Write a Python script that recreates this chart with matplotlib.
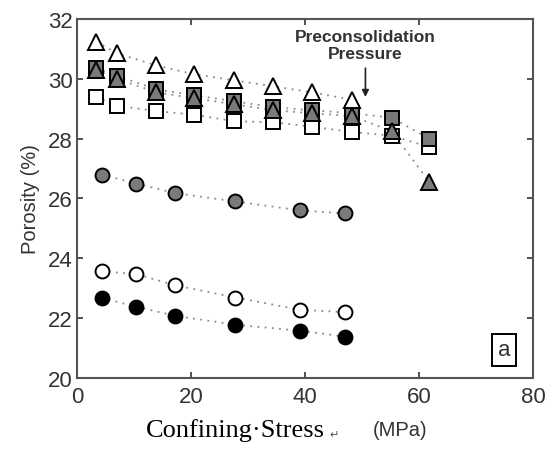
import matplotlib
matplotlib.use("Agg")
import matplotlib.pyplot as plt

# Data (Confining stress MPa, Porosity %)
x_long = [3.4, 7.0, 13.9, 20.6, 27.6, 34.4, 41.2, 48.3, 55.2, 61.8]
x_tri_open = [3.4, 7.0, 13.9, 20.6, 27.6, 34.4, 41.2, 48.3]
tri_open = [31.24, 30.85, 30.45, 30.15, 29.95, 29.75, 29.55, 29.3]
sq_gray = [30.35, 30.1, 29.65, 29.45, 29.25, 29.05, 28.95, 28.85, 28.7, 28.0]
tri_gray = [30.3, 30.0, 29.55, 29.35, 29.15, 28.95, 28.85, 28.75, 28.25, 26.55]
sq_open = [29.4, 29.1, 28.92, 28.8, 28.58, 28.55, 28.4, 28.22, 28.1, 27.72]

x_circ = [4.3, 10.4, 17.2, 27.8, 39.2, 47.1]
circ_gray = [26.8, 26.5, 26.18, 25.9, 25.6, 25.5]
circ_open = [23.57, 23.47, 23.1, 22.69, 22.28, 22.2]
circ_black = [22.68, 22.38, 22.08, 21.78, 21.58, 21.38]

xticks = [0, 20, 40, 60, 80]
yticks = [20, 22, 24, 26, 28, 30, 32]

fig = plt.figure(figsize=(5.47, 4.52), dpi=100)
ax = fig.add_axes([0.1408, 0.1615, 0.8336, 0.7943])

gray = "#7a7a7a"
dot = dict(linestyle=(0, (1, 3)), color="#8a8a8a", lw=1.3)

def series(x, y, marker, fc, ms):
    ax.plot(x, y, **dot, zorder=2)
    ax.plot(x, y, linestyle="none", marker=marker, ms=ms, mfc=fc,
            mec="black", mew=1.4, zorder=3)

series(x_long, sq_open, "s", "white", 9.5)
series(x_long, sq_gray, "s", gray, 9.5)
series(x_long, tri_gray, "^", gray, 11)
series(x_tri_open, tri_open, "^", "white", 12)
series(x_circ, circ_gray, "o", gray, 10)
series(x_circ, circ_open, "o", "white", 10)
series(x_circ, circ_black, "o", "black", 10)

ax.set_xlim(0, 80)
ax.set_ylim(20, 32)
ax.set_xticks(xticks)
ax.set_yticks(yticks)
ax.tick_params(direction="in", length=4, width=1.2, top=True, right=True,
               labelsize=16, colors="#333333", labelcolor="#333333")
ax.tick_params(axis="x", pad=6)
ax.tick_params(axis="y", pad=3)
for lab in ax.get_xticklabels() + ax.get_yticklabels():
    lab.set_family("Liberation Sans")
for sp in ax.spines.values():
    sp.set_linewidth(1.5)
    sp.set_color("#555555")

ax.set_ylabel("Porosity (%)", fontsize=14.5, family="Liberation Sans",
              color="#333333", labelpad=6)

fig.text(0.431, 0.022, "Confining\u00b7Stress", family="Liberation Serif",
         fontsize=19, ha="center", va="bottom", color="black")
fig.text(0.603, 0.026, "\u21b5", family="DejaVu Sans", fontsize=8,
         ha="left", va="bottom", color="#555555")
fig.text(0.732, 0.026, "(MPa)", family="Liberation Sans", fontsize=14.5,
         ha="center", va="bottom", color="#333333")

ax.annotate("", xy=(50.6, 29.3), xytext=(50.6, 30.45),
            arrowprops=dict(arrowstyle="-|>", color="#222222", lw=1.2,
                            mutation_scale=10))
ax.text(50.6, 31.13, "Preconsolidation\nPressure", ha="center", va="center",
        fontsize=12.5, family="Liberation Sans", fontweight="bold",
        color="#333333", linespacing=1.12)

ax.text(74.9, 20.95, "a", ha="center", va="center", fontsize=16,
        family="Liberation Sans", color="#333333",
        bbox=dict(boxstyle="square,pad=0.25", fc="white", ec="black", lw=1.4))

fig.savefig("out.png", dpi=100)
